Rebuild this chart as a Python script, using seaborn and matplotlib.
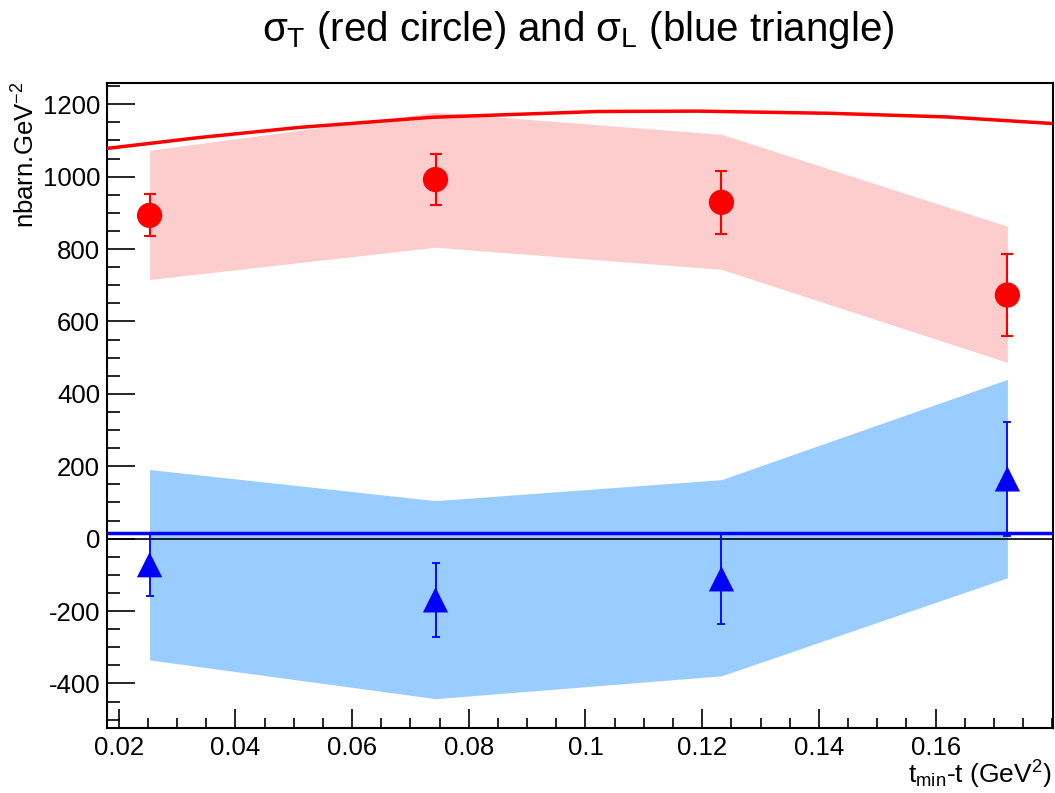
import matplotlib
matplotlib.use("Agg")
import matplotlib.pyplot as plt
from matplotlib.ticker import MultipleLocator
import seaborn as sns
import pandas as pd

# ---- data ----
t_pts = [0.0253, 0.0743, 0.1233, 0.1723]
sigT = [893, 992, 929, 673]
sigT_err = [58, 71, 88, 112]
sigT_band_lo = [716, 805, 744, 487]
sigT_band_hi = [1073, 1178, 1117, 863]

sigL = [-72, -169, -111, 165]
sigL_err = [86, 102, 124, 158]
sigL_band_lo = [-335, -442, -379, -108]
sigL_band_hi = [191, 105, 163, 440]

curve_t = [0.018, 0.0338, 0.0509, 0.0736, 0.1021, 0.1192, 0.1419, 0.1619, 0.1798]
curveT = [1078, 1108, 1136, 1164, 1180, 1181, 1175, 1165, 1147]
curveL = [15, 15, 15, 15, 15, 15, 15, 15, 15]

xticks = [0.02, 0.04, 0.06, 0.08, 0.1, 0.12, 0.14, 0.16]
xticklabels = ["0.02", "0.04", "0.06", "0.08", "0.1", "0.12", "0.14", "0.16"]
yticks = [-400, -200, 0, 200, 400, 600, 800, 1000, 1200]
yticklabels = ["-400", "-200", "0", "200", "400", "600", "800", "1000", "1200"]

sns.set_style("white")
plt.rcParams['font.family'] = ['Liberation Sans', 'DejaVu Sans']
plt.rcParams['mathtext.fontset'] = 'custom'
plt.rcParams['mathtext.rm'] = 'Liberation Sans'
plt.rcParams['mathtext.it'] = 'Liberation Sans'
plt.rcParams['axes.unicode_minus'] = False
plt.rcParams['text.color'] = 'black'
plt.rcParams['xtick.color'] = 'black'
plt.rcParams['ytick.color'] = 'black'
plt.rcParams['axes.labelcolor'] = 'black'

fig = plt.figure(figsize=(10.55, 7.93), dpi=100)
ax = fig.add_axes([0.1014, 0.0820, 0.8966, 0.8130])

df_pts = pd.DataFrame({"t": t_pts, "T": sigT, "L": sigL})
df_curve = pd.DataFrame({"t": curve_t, "T": curveT, "L": curveL})

ax.fill_between(t_pts, sigT_band_lo, sigT_band_hi, color="#fdcccc", linewidth=0, zorder=1)
ax.fill_between(t_pts, sigL_band_lo, sigL_band_hi, color="#99ccff", linewidth=0, zorder=1)

ax.axhline(0, color="black", lw=1.2, zorder=2)

sns.lineplot(data=df_curve, x="t", y="T", color="#ff0000", lw=2.5, ax=ax, zorder=3)
sns.lineplot(data=df_curve, x="t", y="L", color="#0000ff", lw=2.5, ax=ax, zorder=3)

ax.errorbar(t_pts, sigT, yerr=sigT_err, fmt="none", ecolor="#ff0000", elinewidth=1.5,
            capsize=4, capthick=1.5, zorder=4)
ax.errorbar(t_pts, sigL, yerr=sigL_err, fmt="none", ecolor="#0000ff", elinewidth=1.3,
            capsize=3, capthick=1.3, zorder=4)

sns.scatterplot(data=df_pts, x="t", y="T", color="#ff0000", marker="o", s=330,
                edgecolor="none", ax=ax, zorder=5)
sns.scatterplot(data=df_pts, x="t", y="L", color="#0000ff", marker="^", s=330,
                edgecolor="none", ax=ax, zorder=5)

ax.set_xlim(0.018, 0.1801)
ax.set_ylim(-523, 1258)

ax.set_xticks(xticks)
ax.set_xticklabels(xticklabels)
ax.set_yticks(yticks)
ax.set_yticklabels(yticklabels)
ax.xaxis.set_minor_locator(MultipleLocator(0.005))
ax.yaxis.set_minor_locator(MultipleLocator(50))
ax.tick_params(axis="both", which="both", direction="in", width=1.2, labelsize=18.5,
               colors="black", top=False, right=False, bottom=True, left=True)
ax.tick_params(axis="y", which="major", length=20, pad=5)
ax.tick_params(axis="y", which="minor", length=9.5)
ax.tick_params(axis="x", which="major", length=14, pad=6)
ax.tick_params(axis="x", which="minor", length=7)

for sp in ax.spines.values():
    sp.set_linewidth(1.5)
    sp.set_color("black")

ax.set_xlabel("")
ax.set_ylabel("")
fig.text(0.997, 0.003, r"t$_{\mathrm{min}}$-t (GeV$^{2}$)", ha="right", va="bottom",
         fontsize=19, color="black")
fig.text(0.012, 0.897, r"nbarn.GeV$^{-2}$", ha="left", va="top", rotation=90,
         fontsize=18.5, color="black")
fig.text(0.548, 0.962, r"$\sigma_{\mathrm{T}}$ (red circle) and $\sigma_{\mathrm{L}}$ (blue triangle)",
         ha="center", va="center", fontsize=29, color="black")

fig.savefig("out.png", dpi=100)
